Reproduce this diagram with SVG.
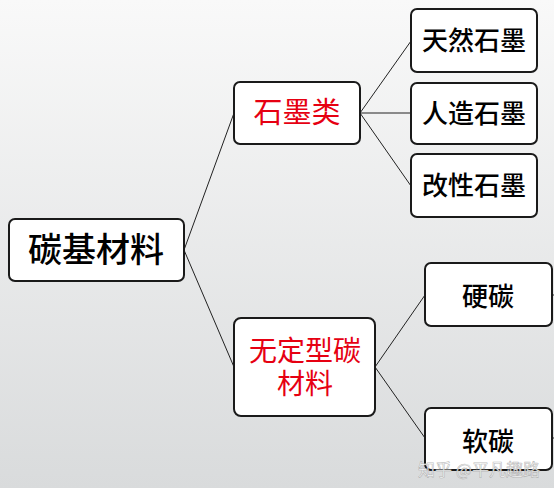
<svg xmlns="http://www.w3.org/2000/svg" width="554" height="488" viewBox="0 0 554 488">
<defs>
<linearGradient id="bg" x1="0" y1="0" x2="0" y2="1">
<stop offset="0" stop-color="#f9f9f9"/>
<stop offset="1" stop-color="#d9dbdc"/>
</linearGradient>
<style>
.box{fill:#fff;stroke:#1a1a1a;stroke-width:2}
.t{font-family:"Noto Sans CJK SC","Noto Sans",sans-serif;text-anchor:middle;fill:#000;font-weight:500}
.r{fill:#e60012;font-weight:400}
.c{stroke:#222;stroke-width:1;fill:none}
.wm{font-family:"Noto Sans CJK SC",sans-serif;font-size:17px;fill:#fff;fill-opacity:0.9;stroke:#8a8a8a;stroke-width:0.6;stroke-opacity:0.6}
</style>
</defs>
<rect width="554" height="488" fill="url(#bg)"/>
<g id="connectors">
<path class="c" d="M184,250 L234,113 M184,250 L234,367"/>
<path class="c" d="M360,113 L411,41 M360,113 L411,113 M360,113 L411,186"/>
<path class="c" d="M375,367 L425,295 M375,367 L425,438"/>
<path class="c" d="M552,295 L554,295 M552,438 L554,438"/>
</g>
<g id="root"><rect class="box" x="9" y="219" width="175" height="62" rx="6"/><text class="t" x="96" y="262" font-size="34">碳基材料</text></g>
<g id="graphite"><rect class="box" x="234" y="82" width="126" height="62" rx="6"/><text class="t r" x="297" y="123" font-size="29">石墨类</text></g>
<g id="natural"><rect class="box" x="411" y="9" width="126" height="63" rx="6"/><text class="t" x="474" y="50" font-size="26">天然石墨</text></g>
<g id="artificial"><rect class="box" x="411" y="83" width="126" height="61" rx="6"/><text class="t" x="474" y="123" font-size="26">人造石墨</text></g>
<g id="modified"><rect class="box" x="411" y="154" width="126" height="63" rx="6"/><text class="t" x="474" y="195" font-size="26">改性石墨</text></g>
<g id="amorphous"><rect class="box" x="234" y="318" width="141" height="98" rx="7"/><text class="t r" x="305" y="361" font-size="28">无定型碳</text><text class="t r" x="305" y="394" font-size="28">材料</text></g>
<g id="hard"><rect class="box" x="425" y="263" width="127" height="63" rx="6"/><text class="t" x="488" y="306" font-size="26">硬碳</text></g>
<g id="soft"><rect class="box" x="425" y="408" width="127" height="62" rx="6"/><text class="t" x="488" y="451" font-size="26">软碳</text></g>
<text class="wm" x="418" y="476">知乎 @平凡趣路</text>
</svg>
